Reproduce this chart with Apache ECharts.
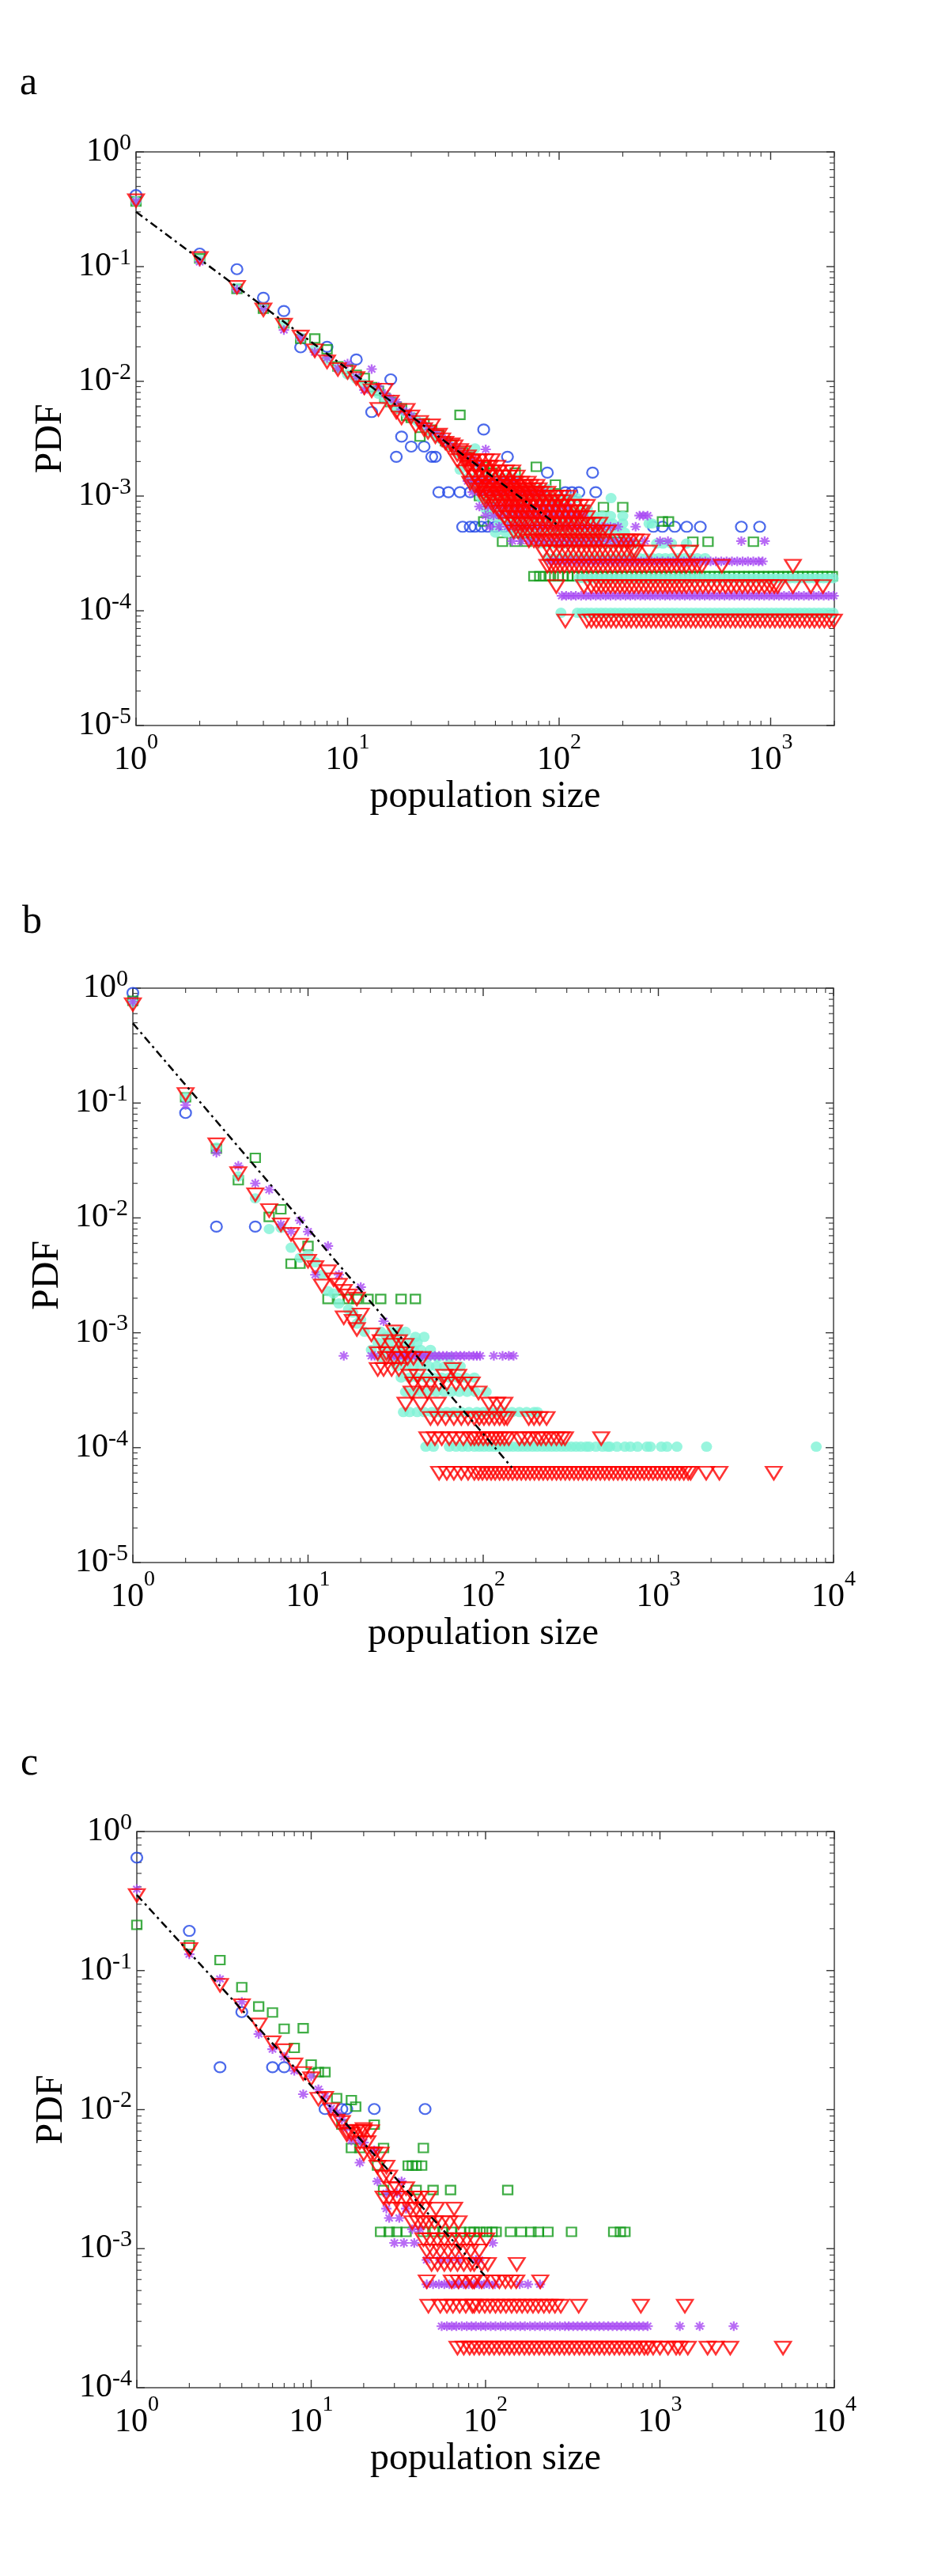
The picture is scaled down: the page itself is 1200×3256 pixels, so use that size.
<!DOCTYPE html>
<html><head><meta charset="utf-8">
<script src="https://cdn.jsdelivr.net/npm/echarts@6/dist/echarts.min.js"></script>
<style>html,body{margin:0;padding:0;background:#fff}#c{width:1200px;height:3256px}</style>
</head><body><div id="c"></div>
<script>
// ================= DATA =================
// ---- panel a ----
const aXRange = [1, 2000];
const aYRange = [1e-5, 1];
const aBlueHead = [[1,0.42],[2,0.13],[3,0.095],[4,0.0535],[5,0.041],[6,0.0198],[8,0.020],[11,0.0155],[13,0.0054],[16,0.0104],[17,0.0022],[18,0.0033],[20,0.0027],[23,0.0027],[25,0.0022],[26,0.0022],[44,0.0038],[57,0.0022],[88,0.0016],[144,0.0016]];
const aBlueRows = [
 [0.00108,[27,30,34,38,107,115,124,149]],
 [0.00054,[35,38,40,43,46,50,55,60,66,279,308,352,401,465,727,887]]
];
const aGreenHead = [[1,0.37],[2,0.118],[3,0.064],[4,0.043],[5,0.032],[6,0.0235],[7,0.0236],[8,0.019],[9,0.0135],[10,0.0128],[11,0.0114],[12,0.0107],[13,0.0089],[14,0.0083],[15,0.0072],[16,0.0066],[17,0.006],[18,0.0058],[19,0.005],[20,0.0048],[22,0.0033],[23,0.0043],[25,0.0038],[27,0.0034],[29,0.003],[31,0.0028],[34,0.0051],[35,0.0024],[37,0.0022],[44,0.0018],[48,0.0016],[62,0.0016],[78,0.0018],[96,0.00126]];
const aGreenRows = [
 [0.0012,[40,52,58]],
 [0.001,[42,58,75]],
 [0.0008,[47,70,95,162,200]],
 [0.0006,[44,60,72,80,88,308,329]],
 [0.0004,[54,62,70,110,120,135,150,170,190,429,506,829]],
 [0.0002,[76,81,86,91,99,104,110,116,122,129,136,143,151,159,168,177,187,197,208,219,231,244,257,271,286,302,318,336,354,374,394,416,439,463,488,515,543,573,604,637,672,709,748,789,832,878,926,977,1030,1087,1147,1210,1276,1346,1420,1498,1580,1667,1758,1855,1957]]
];
const aCyanHead = [[1,0.37],[2,0.115],[3,0.065],[4,0.044],[5,0.031],[6,0.024],[7,0.019],[8,0.0155],[9,0.013],[10,0.0115],[11,0.0105],[12,0.0095],[13,0.0085],[14,0.0078],[15,0.007],[16,0.0065],[17,0.0059],[18,0.0056],[19,0.0052],[20,0.0049],[21,0.0046],[22,0.0043],[23,0.0041],[24,0.0039],[25,0.0036],[26,0.0034],[27,0.0032],[28,0.0031],[29,0.0029],[30,0.0028],[32,0.0026],[33,0.0024],[34,0.0017],[36,0.0022],[38,0.002],[40,0.0026],[42,0.0018]];
const aCyanRows = [
 [0.00144,[37,40,44,48,52,57,62]],
 [0.00115,[40,44,48,52,57,62,68,74,81,88]],
 [0.00096,[43,47,51,56,61,66,72,79,86,94,102,111,121,176]],
 [0.00077,[45,50,55,60,66,72,79,86,94,103,113,124,136]],
 [0.00067,[48,53,58,64,70,77,84,92,101,110,121,133,146,160,175,200]],
 [0.000577,[52,58,64,70,77,85,93,102,112,123,135,148,163,179,200,266,275]],
 [0.00048,[50,56,62,68,75,83,92,101,112,124,137,151,167,185,204]],
 [0.000385,[80,85,92,99,107,116,125,135,146,158,170,184,198,214,231,289,310,340,400]],
 [0.000288,[88,95,102,110,118,127,136,146,157,169,181,194,208,223,240,257,276,296,318,341,366,393,420,450,490]],
 [0.000192,[124,131,138,145,153,161,170,179,189,199,210,221,233,245,258,272,287,302,318,335,353,372,392,413,435,458,483,509,536,565,595,627,660,696,733,772,813,857,903,951,1002,1056,1112,1172,1235,1301,1370,1444,1521,1603,1688,1779,1874,1975]],
 [0.000096,[102,122,128,135,142,150,158,166,175,184,194,204,215,226,238,251,264,278,293,309,325,342,360,380,400,421,443,466,491,517,544,573,603,635,669,704,741,780,822,865,911,959,1010,1063,1119,1178,1240,1306,1375,1448,1524,1605,1690,1780,1874,1973]]
];
const aPurpleHead = [[1,0.37],[2,0.11],[3,0.063],[4,0.043],[5,0.028],[6,0.024],[7,0.018],[8,0.016],[9,0.013],[10,0.0143],[11,0.011],[12,0.0084],[13,0.0128],[14,0.009],[15,0.0078],[16,0.0071],[17,0.0066],[18,0.0057],[19,0.0054],[20,0.005],[22,0.0044],[24,0.004],[26,0.0036],[28,0.0032],[30,0.0029],[33,0.0026],[36,0.0023],[39,0.0021],[42,0.0019],[45,0.00255]];
const aPurpleRows = [
 [0.00135,[37,40,43,46,50,54,58,62]],
 [0.00108,[39,42,45,49,53,57,61,66,71,77,83]],
 [0.00081,[42,46,50,54,58,63,68,74,80,86,93,101,110]],
 [0.000676,[45,49,53,58,63,68,74,80,87,94,102,111,120,130,240,250,262]],
 [0.00054,[47,52,57,62,68,74,81,88,96,105,114,124,135,147,160,175,190,230]],
 [0.000405,[60,66,72,78,85,93,101,110,120,131,143,156,170,185,202,220,254,300,327,727,937]],
 [0.00027,[91,96,102,108,114,121,128,136,144,153,162,172,182,193,205,217,230,244,259,274,291,308,327,346,367,389,412,437,463,491,520,551,584,619,656,695,737,781,828,877,916]],
 [0.000135,[103,108,114,120,127,134,141,149,157,166,175,185,195,206,217,229,242,255,269,284,300,317,334,353,372,393,415,438,462,488,515,543,573,605,639,674,712,751,793,837,883,932,984,1038,1096,1157,1221,1289,1360,1436,1515,1600,1688,1782,1880,1985]]
];
const aRedHead = [[1,0.376],[2,0.118],[3,0.066],[4,0.042],[5,0.031],[6,0.0244],[7,0.0185],[8,0.0148],[9,0.0127],[10,0.012],[11,0.0106],[12,0.0088],[13,0.0083],[14,0.0057],[15,0.0084],[16,0.0066],[17,0.0054],[18,0.0048],[19,0.0056],[20,0.0049],[21,0.0041],[22,0.0044],[23,0.0038],[24,0.0036],[25,0.0041],[26,0.0033],[27,0.0034],[28,0.0031],[29,0.0029],[30,0.0027],[31,0.0028],[32,0.0027],[33,0.0023],[34,0.0025],[35,0.0024],[36,0.0021],[37,0.0022],[38,0.0019],[39,0.002],[40,0.0018]];
const aRedRows = [
 [0.00204,[33,36,39,42,45,48]],
 [0.00179,[37,41,44,47,51]],
 [0.00163,[36,39,42,45,48,52,56,60]],
 [0.00147,[40,43,46,50,54,58,63]],
 [0.0013,[38,42,45,49,53,57,62,66,71]],
 [0.00122,[40,43,47,51,55,59,63,68,73,78]],
 [0.00114,[42,45,49,53,57,61,65,70,75,80]],
 [0.00106,[44,47,51,55,59,63,67,72,77,82,88]],
 [0.00098,[45,48,52,56,60,64,68,73,78,84,90,96,102,110]],
 [0.000897,[45,49,53,57,61,65,70,75,80,86,92,98,104]],
 [0.000815,[49,53,57,61,65,69,74,79,84,90,96,103,110,118,126,135]],
 [0.00073,[52,56,60,64,68,72,77,82,88,94,100,107,114,121,127]],
 [0.00065,[55,59,63,67,71,76,81,86,92,98,104,111,118,126,135]],
 [0.00057,[58,62,66,70,74,79,84,89,95,101,107,114,121,128,136,145,155]],
 [0.000489,[61,64,67,71,75,79,83,88,93,98,104,110,116,122,129,136,144,152,160,170]],
 [0.000408,[72,76,80,85,90,95,100,106,112,118,124,131,138,146,154,163,187,197,207,218,230,245]],
 [0.000326,[84,91,97,104,110,117,124,131,139,147,156,165,175,186,197,209,222,229,266,363,415]],
 [0.000245,[88,92,96,101,106,112,118,124,131,138,145,153,161,170,179,189,199,210,222,234,247,260,275,290,306,323,340,360,380,400,425,450,473,588,1274]],
 [0.000163,[97,131,142,150,158,166,175,184,194,204,215,226,238,251,264,278,293,309,325,342,360,380,400,425,450,478,508,540,575,612,650,690,735,780,830,880,935,990,1040,1080,1274,1549,1767]],
 [0.0000815,[107,135,142,150,158,167,176,186,197,208,219,232,245,258,272,287,303,320,338,356,376,397,419,442,467,493,520,549,579,611,645,681,719,759,801,845,892,941,993,1048,1106,1167,1232,1300,1372,1448,1528,1612,1701,1795,1895,1990]]
];
const aFit = [[1,0.30],[97,0.00057]];

// ---- panel b ----
const bXRange = [1, 10000];
const bYRange = [1e-5, 1];
const bBlueHead = [[1,0.91],[2,0.082],[3,0.0084],[5,0.0084]];
const bGreenHead = [[1,0.776],[2,0.112],[3,0.04],[4,0.0213],[5,0.0333],[6,0.0102],[7,0.0119],[8,0.004],[9,0.004],[10,0.0057],[13,0.00197],[15,0.00197],[17,0.00197],[19,0.00197],[22,0.00197],[26,0.00197],[34,0.00197],[41,0.00197]];
const bCyanHead = [[1,0.75],[2,0.112],[3,0.041],[4,0.023],[5,0.0148],[6,0.008],[7,0.0082],[8,0.0055],[9,0.0045],[10,0.0048],[11,0.0041],[12,0.0032],[13,0.0023],[14,0.0022],[15,0.0018],[17,0.0016],[18,0.0015],[19,0.0012],[20,0.0013]];
const bCyanRows = [
 [0.00102,[21,26,30,33,36]],
 [0.00092,[28,32,41,46]],
 [0.00082,[25,29,34,38,42]],
 [0.00071,[23,27,31,35,40,44,50]],
 [0.00061,[26,30,34,38,43,48,55,64]],
 [0.00051,[32,36,40,44,49,54,60,67,74]],
 [0.000408,[34,38,42,47,52,58,64,71,79,89]],
 [0.000306,[36,40,44,49,54,60,66,73,81,90,104]],
 [0.000204,[35,38,42,46,51,56,62,68,75,83,92,100,110,121,133,146,161,177,195,204]],
 [0.000102,[47,52,64,70,76,82,89,95,101,108,115,122,130,139,148,158,168,179,191,203,217,231,246,262,280,298,318,339,361,387,403,440,480,514,528,580,644,692,760,860,900,1040,1120,1277,1884,7965]]
];
const bPurpleHead = [[1,0.76],[2,0.096],[3,0.037],[4,0.0284],[5,0.02],[6,0.0176],[7,0.0088],[8,0.0076],[9,0.0095],[10,0.0076],[11,0.0032],[13,0.0057],[15,0.0032],[20,0.0025],[27,0.00126]];
const bPurpleRows = [
 [0.00063,[16,23,24,30,31,33,35,37,39,41,43,45,47,50,53,56,59,62,66,70,74,78,83,88,92,96,115,129,140,149]]
];
const bRedHead = [[1,0.72],[2,0.119],[3,0.0434],[4,0.0243],[5,0.0159],[6,0.0116],[7,0.0087],[8,0.0072],[9,0.0058],[10,0.0042],[11,0.0037],[12,0.00256],[13,0.0034],[14,0.0029],[15,0.0026],[16,0.0023],[17,0.0021],[19,0.00197]];
const bRedRows = [
 [0.00143,[20]],
 [0.00135,[16]],
 [0.00126,[18]],
 [0.00107,[19]],
 [0.00102,[31]],
 [0.00096,[23]],
 [0.00084,[26,33]],
 [0.00078,[30,36]],
 [0.00066,[25,28,36]],
 [0.0006,[28,31,34,37,40,45]],
 [0.00048,[25,27,30,33,67]],
 [0.00042,[38,42,60,72]],
 [0.00036,[40,45,50,56,62,70,78,86]],
 [0.0003,[39,48,94]],
 [0.00024,[36,44,55,108,120,132]],
 [0.00018,[50,55,61,68,75,82,89,95,101,108,116,124,132,137,182,195,210,230]],
 [0.00012,[48,53,58,64,70,77,85,89,94,100,106,112,118,125,132,140,161,172,185,204,214,228,245,262,280,293,472]],
 [0.00006,[56,62,68,75,82,89,94,99,105,111,117,124,131,139,147,156,165,175,185,196,208,220,233,247,262,277,294,311,330,349,370,392,415,440,466,494,523,554,587,622,659,698,740,784,830,880,932,988,1047,1109,1175,1245,1320,1398,1480,1528,1875,2230,4560]]
];
const bFit = [[1,0.495],[146,0.000067]];

// ---- panel c ----
const cXRange = [1, 10000];
const cYRange = [1e-4, 1];
const cBlueHead = [[1,0.649],[2,0.193],[3,0.0202],[4,0.0503],[6,0.0202],[7,0.0202],[12,0.0101],[15,0.0101],[16,0.0101],[23,0.0101],[45,0.0101]];
const cGreenHead = [[1,0.213],[2,0.152],[3,0.119],[4,0.076],[5,0.0552],[6,0.0499],[7,0.0382],[8,0.0278],[9,0.0385],[10,0.0211],[11,0.0186],[12,0.0186],[14,0.0121],[15,0.0078],[17,0.0117],[18,0.0105],[23,0.0078]];
const cGreenRows = [
 [0.0053,[17,19,26,44]],
 [0.00396,[24,36,38,40,43]],
 [0.00264,[26,40,50,63,134]],
 [0.00132,[25,28,31,35,44,51,57,64,72,81,86,93,101,109,115,139,160,182,201,228,311,543,593,630]]
];
const cPurpleHead = [[1,0.385],[2,0.131],[3,0.087],[4,0.0596],[5,0.035],[6,0.0272],[7,0.024],[8,0.019],[9,0.0129],[10,0.0174],[11,0.014],[12,0.0125],[13,0.0102],[14,0.0095],[15,0.0085],[16,0.0074],[17,0.006],[19,0.006],[20,0.0058],[23,0.0051]];
const cPurpleRows = [
 [0.00416,[19]],
 [0.00305,[24,33]],
 [0.0025,[27,31]],
 [0.00194,[27,35]],
 [0.00166,[28,32]],
 [0.00138,[38,42]],
 [0.0011,[30,34,39,110]],
 [0.00083,[46,55,62,70,88,92]],
 [0.000554,[46,50,54,58,62,66,70,75,80,86,92,98,105,113,157,175,205]],
 [0.000277,[56,60,64,68,73,78,83,88,94,100,107,114,122,130,139,148,158,168,180,192,205,219,234,250,267,285,300,318,337,357,378,400,424,449,476,505,535,567,600,636,674,714,757,802,850,1300,1690,2650]]
];
const cRedHead = [[1,0.347],[2,0.142],[3,0.0785],[4,0.056],[5,0.0407],[6,0.0303],[7,0.0266],[8,0.021],[9,0.0182],[10,0.0167],[11,0.0119],[12,0.0121],[13,0.01],[14,0.0083],[15,0.0081],[16,0.0066],[17,0.0067],[19,0.007],[20,0.0072]];
const cRedRows = [
 [0.00695,[16,18,20,22]],
 [0.0058,[19,21]],
 [0.0048,[20,22,23,25]],
 [0.00386,[24,27]],
 [0.00328,[26,28]],
 [0.0027,[29,31,35]],
 [0.00232,[26,28,31,35,39,42,47]],
 [0.00193,[29,33,37,40,44,52,66]],
 [0.00154,[38,41,44,47,51,56,62,70]],
 [0.00116,[44,48,53,58,64,71,78,86,101]],
 [0.000965,[46,50,55,61,67,74,82,92]],
 [0.000772,[49,53,58,63,69,75,82,86,95,103,151]],
 [0.000579,[46,64,70,77,84,86,95,110,120,130,140,150,206]],
 [0.000386,[47,55,60,65,71,77,84,86,92,99,106,114,122,131,141,151,162,174,187,201,216,232,250,270,342,777,1390]],
 [0.000193,[69,75,81,86,92,98,105,112,120,128,137,146,156,167,178,190,203,217,232,248,265,283,302,323,345,368,393,420,449,480,513,548,585,625,668,713,762,814,850,914,1000,1112,1238,1300,1445,1875,2090,2530,5080]]
];
const cFit = [[1,0.35],[99,0.00064]];

// ================= RENDER =================
const FONT = "'Liberation Serif','Times New Roman','DejaVu Serif',serif";
const TRI = 'path://M0,0L20,0L10,16Z';
const ASTER = 'path://M6,0L6,12M0,6L12,6M1.8,1.8L10.2,10.2M1.8,10.2L10.2,1.8';
const STY = {
  blue:   {symbol:'circle', symbolSize:[14,13], itemStyle:{color:'rgba(0,0,0,0)', borderColor:'#1f45e6', borderWidth:2.2}},
  green:  {symbol:'rect', symbolSize:[12,11], itemStyle:{color:'rgba(0,0,0,0)', borderColor:'#109a18', borderWidth:2.2}},
  cyan:   {symbol:'circle', symbolSize:[14,13], itemStyle:{color:'#7ff3d6'}},
  purple: {symbol:ASTER, symbolSize:[13,12], itemStyle:{color:'rgba(0,0,0,0)', borderColor:'#a646f2', borderWidth:2.2}},
  red:    {symbol:TRI, symbolSize:[20,16], itemStyle:{color:'rgba(0,0,0,0)', borderColor:'#ff0000', borderWidth:2.4}}
};
const expand = (head, rows) => head.concat(...(rows || []).map(([y, xs]) => xs.map(x => [x, y])));
function scat(idx, key, data) {
  return Object.assign({type:'scatter', xAxisIndex:idx, yAxisIndex:idx, data, clip:false, silent:true, z:3}, STY[key]);
}
function fitLine(idx, pts) {
  return {type:'line', xAxisIndex:idx, yAxisIndex:idx, data:pts, symbol:'none', silent:true, z:4, clip:false,
    lineStyle:{color:'#000', width:2.5, type:[10,5,3,5]}};
}
function decadeTicks(lo, hi) {
  const out = [];
  for (let e = Math.floor(Math.log10(lo)); e <= Math.ceil(Math.log10(hi)); e++) {
    for (let m = 1; m <= 9; m++) {
      const v = m * Math.pow(10, e);
      if (v >= lo * 0.999 && v <= hi * 1.001) out.push([v, m === 1 ? 1 : 0]);
    }
  }
  return out;
}
function tickSeries(idx, xr, yr) {
  const data = [];
  decadeTicks(xr[0], xr[1]).forEach(([v, m]) => data.push([v, yr[0], m, 0]));
  decadeTicks(yr[0], yr[1]).forEach(([v, m]) => data.push([xr[0], v, m, 1]));
  return {type:'custom', xAxisIndex:idx, yAxisIndex:idx, silent:true, clip:false, z:2, data,
    renderItem(params, api) {
      const major = api.value(2), isY = api.value(3);
      const len = major ? 10 : 6;
      const st = {stroke:'#333', lineWidth: major ? 1.4 : 1.1};
      if (!isY) {
        const v = api.value(0);
        const b = api.coord([v, yr[0]]), t = api.coord([v, yr[1]]);
        return {type:'group', children:[
          {type:'line', shape:{x1:b[0], y1:b[1], x2:b[0], y2:b[1]-len}, style:st},
          {type:'line', shape:{x1:t[0], y1:t[1], x2:t[0], y2:t[1]+len}, style:st}]};
      }
      const v = api.value(1);
      const l = api.coord([xr[0], v]), r = api.coord([xr[1], v]);
      return {type:'group', children:[
        {type:'line', shape:{x1:l[0], y1:l[1], x2:l[0]+len, y2:l[1]}, style:st},
        {type:'line', shape:{x1:r[0], y1:r[1], x2:r[0]-len, y2:r[1]}, style:st}]};
    }};
}
function powLabel(v) {
  const l = Math.log10(v), e = Math.round(l);
  if (Math.abs(l - e) > 1e-6) return '';
  return '{b|10}{s|' + e + '}';
}
function xAx(idx, xr, gap) {
  return {type:'log', logBase:10, gridIndex:idx, min:xr[0], max:xr[1],
    axisLine:{show:false}, axisTick:{show:false}, splitLine:{show:false},
    axisLabel:{margin:8, formatter:powLabel, showMaxLabel:true, hideOverlap:false,
      rich:{b:{fontFamily:FONT, fontSize:42, lineHeight:72, color:'#000'},
            s:{fontFamily:FONT, fontSize:28, lineHeight:28, verticalAlign:'top', color:'#000'}}},
    name:'population size', nameLocation:'middle', nameGap:gap,
    nameTextStyle:{fontFamily:FONT, fontSize:48, lineHeight:48, color:'#000'}};
}
function yAx(idx, yr) {
  return {type:'log', logBase:10, gridIndex:idx, min:yr[0], max:yr[1],
    axisLine:{show:false}, axisTick:{show:false}, splitLine:{show:false},
    axisLabel:{margin:6, formatter:powLabel, hideOverlap:false,
      rich:{b:{fontFamily:FONT, fontSize:42, lineHeight:52, color:'#000'},
            s:{fontFamily:FONT, fontSize:30, lineHeight:30, verticalAlign:'top', color:'#000'}}},
    name:'PDF', nameLocation:'middle', nameGap:82, nameRotate:90,
    nameTextStyle:{fontFamily:FONT, fontSize:48, lineHeight:48, color:'#000'}};
}
const gridStyle = {show:true, borderColor:'#444', borderWidth:1.5, backgroundColor:'rgba(0,0,0,0)'};
const panels = [
  {xr:aXRange, yr:aYRange, blue:expand(aBlueHead,aBlueRows), green:expand(aGreenHead,aGreenRows), cyan:expand(aCyanHead,aCyanRows), purple:expand(aPurpleHead,aPurpleRows), red:expand(aRedHead,aRedRows), fit:aFit, gap:62},
  {xr:bXRange, yr:bYRange, blue:expand(bBlueHead), green:expand(bGreenHead), cyan:expand(bCyanHead,bCyanRows), purple:expand(bPurpleHead,bPurpleRows), red:expand(bRedHead,bRedRows), fit:bFit, gap:64},
  {xr:cXRange, yr:cYRange, blue:expand(cBlueHead), green:expand(cGreenHead,cGreenRows), cyan:[], purple:expand(cPurpleHead,cPurpleRows), red:expand(cRedHead,cRedRows), fit:cFit, gap:56}
];
const series = [];
panels.forEach((p, i) => {
  series.push(tickSeries(i, p.xr, p.yr));
  ['blue','green','cyan','purple','red'].forEach(k => { if (p[k].length) series.push(scat(i, k, p[k])); });
  series.push(fitLine(i, p.fit));
});
const titleStyle = {fontFamily:FONT, fontSize:50, fontWeight:'normal', color:'#000'};
const option = {
  animation:false,
  backgroundColor:'#fff',
  title:[
    {text:'a', left:20, top:76, textStyle:titleStyle},
    {text:'b', left:23, top:1136, textStyle:titleStyle},
    {text:'c', left:21, top:2200, textStyle:titleStyle}
  ],
  grid:[
    Object.assign({left:172, top:192, width:883, height:725}, gridStyle),
    Object.assign({left:168, top:1249, width:886, height:726}, gridStyle),
    Object.assign({left:173, top:2315, width:882, height:703}, gridStyle)
  ],
  xAxis: panels.map((p, i) => xAx(i, p.xr, p.gap)),
  yAxis: panels.map((p, i) => yAx(i, p.yr)),
  series
};
const chart = echarts.init(document.getElementById('c'), null, {renderer:'canvas'});
chart.setOption(option);
</script></body></html>
